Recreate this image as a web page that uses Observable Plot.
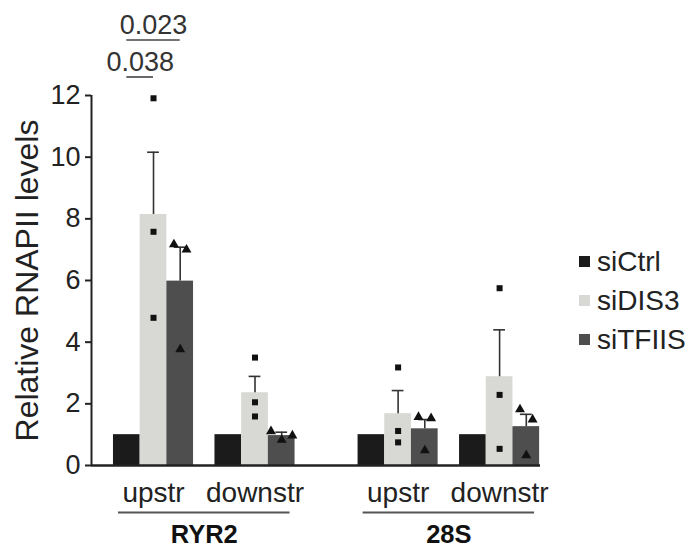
<!DOCTYPE html>
<html><head><meta charset="utf-8">
<script src="https://cdn.jsdelivr.net/npm/d3@7"></script>
<script src="https://cdn.jsdelivr.net/npm/@observablehq/plot@0.6"></script>
<style>
body{margin:0;background:#fff;font-family:"Liberation Sans",Arial,sans-serif;}
#wrap{position:relative;width:691px;height:549px;}
#chart svg{overflow:visible;}
#legend{position:absolute;left:579px;top:246px;}
.lg-swatches{font-size:28px !important;font-family:"Liberation Sans",Arial,sans-serif !important;color:#222 !important;margin:0 !important;}
.lg-swatch{padding-bottom:8px !important;line-height:31px !important;}
.lg-swatch svg{margin-right:7px !important;}
</style></head><body><div id="wrap"><div id="chart"></div><div id="legend"></div></div>
<script>
// ---- data ----
const genes = ["RYR2", "28S"];
const regions = ["upstr", "downstr"];
const series = ["siCtrl", "siDIS3", "siTFIIS"];
const colors = ["#1b1b1b", "#d8d9d4", "#4e4e4e"];
const yTicks = [0, 2, 4, 6, 8, 10, 12];
const yLabel = "Relative RNAPII levels";
// group order: RYR2 upstr, RYR2 downstr, 28S upstr, 28S downstr
const ctrlMean = [1, 1, 1, 1];
const dis3Mean = [8.14, 2.36, 1.68, 2.88];
const dis3Sem = [2.02, 0.53, 0.75, 1.52];
const tfiisMean = [5.98, 0.97, 1.19, 1.26];
const tfiisSem = [1.10, 0.11, 0.30, 0.40];
const dis3Points = [[11.91, 7.58, 4.79], [3.50, 2.05, 1.59], [3.18, 1.12, 0.75], [5.75, 2.29, 0.54]];
const tfiisPoints = [[7.17, 7.00, 3.77], [1.11, 0.97, 0.83], [1.57, 1.53, 0.49], [1.82, 1.49, 0.33]];
const pLabels = ["0.038", "0.023"];
const pPairs = [["siCtrl", "siDIS3"], ["siCtrl", "siTFIIS"]];

// ---- layout (code only) ----
const geneGap = 1.41, barW = 0.263, capHalf = 0.058, jit = 0.062;
const xDomain = [-0.611, 3.813];
const groups = [];
genes.forEach((g, gi) => regions.forEach((r, ri) => groups.push({gene: g, region: r, center: gi * (1 + geneGap) + ri})));
const means = [ctrlMean, dis3Mean, tfiisMean];
const sems = [null, dis3Sem, tfiisSem];
const bars = [];
groups.forEach((grp, k) => series.forEach((s, si) => {
  const xc = grp.center + (si - 1) * barW;
  bars.push({series: s, group: k, xc, x1: xc - barW / 2, x2: xc + barW / 2, mean: means[si][k], sem: sems[si] ? sems[si][k] : null});
}));
const errs = bars.filter(d => d.sem != null).map(d => ({...d, top: d.mean + d.sem}));
const sq = [], tri = [];
const pattern = [-1, 1, 0];
groups.forEach((grp, k) => {
  const b1 = bars.find(d => d.group === k && d.series === "siDIS3");
  const b2 = bars.find(d => d.group === k && d.series === "siTFIIS");
  dis3Points[k].forEach(v => sq.push({x: b1.xc, y: v}));
  const spread = (d3.max(tfiisPoints[k]) - d3.min(tfiisPoints[k]) < 0.4) ? 1.7 : 1;
  tfiisPoints[k].forEach((v, i) => tri.push({x: b2.xc + pattern[i] * jit * spread, y: v}));
});
const geneRows = genes.map((g, gi) => {
  const gs = groups.filter(d => d.gene === g);
  return {gene: g, center: d3.mean(gs, d => d.center), x1: gs[0].center - 0.345, x2: gs[gs.length - 1].center + 0.345};
});
const bracketLevels = [12.6, 13.8];
const brackets = pLabels.map((p, i) => {
  const a = bars.find(d => d.group === 0 && d.series === pPairs[i][0]);
  const b = bars.find(d => d.group === 0 && d.series === pPairs[i][1]);
  return {label: p, x1: a.xc, x2: b.xc, mid: (a.xc + b.xc) / 2, y: bracketLevels[i]};
});

const ink = "#222";
const chart = Plot.plot({
  width: 691, height: 549,
  marginLeft: 91, marginRight: 151, marginTop: 95, marginBottom: 84,
  style: {fontFamily: "Liberation Sans, Arial, sans-serif", color: ink, background: "#fff", overflow: "visible"},
  x: {type: "linear", domain: xDomain, axis: null},
  y: {domain: [0, 12], axis: null},
  color: {domain: series, range: colors},
  marks: [
    Plot.rectY(bars, {x1: "x1", x2: "x2", y: "mean", fill: "series"}),
    Plot.ruleX(errs, {x: "xc", y1: "mean", y2: "top", stroke: "#333", strokeWidth: 1.6}),
    Plot.ruleY(errs, {y: "top", x1: d => d.xc - capHalf, x2: d => d.xc + capHalf, stroke: "#333", strokeWidth: 1.6}),
    Plot.dot(sq, {x: "x", y: "y", symbol: "square", r: 3.4, fill: "#111", stroke: "none"}),
    Plot.dot(tri, {x: "x", y: "y", symbol: "triangle", r: 3.7, fill: "#111", stroke: "none"}),
    Plot.ruleY([0], {x1: xDomain[0], x2: xDomain[1], stroke: ink, strokeWidth: 2.5}),
    Plot.ruleX([xDomain[0]], {y1: 0, y2: 12, stroke: ink, strokeWidth: 2}),
    Plot.axisY(yTicks, {anchor: "left", tickSize: 6, tickPadding: 5, fontSize: 27, strokeWidth: 2, label: null, stroke: ink}),
    Plot.text([yLabel], {frameAnchor: "left", textAnchor: "middle", dx: -64, rotate: -90, fontSize: 32, fill: ink}),
    Plot.text(groups, {x: "center", y: 0, text: "region", dy: 28, fontSize: 28, fill: ink}),
    Plot.ruleY(geneRows, {y: 0, x1: "x1", x2: "x2", dy: 47, stroke: "#555", strokeWidth: 2}),
    Plot.text(geneRows, {x: "center", y: 0, text: "gene", dy: 69, fontSize: 25.5, fontWeight: "bold", fill: "#111"}),
    Plot.ruleY(brackets, {y: "y", x1: "x1", x2: "x2", stroke: "#444", strokeWidth: 1.6}),
    Plot.text(brackets, {x: "mid", y: "y", text: "label", dy: -14.5, fontSize: 27, fill: "#333"})
  ]
});
document.getElementById("chart").appendChild(chart);
const leg = Plot.legend({color: {domain: series, range: colors}, legend: "swatches", columns: 1, swatchSize: 11, className: "lg"});
document.getElementById("legend").appendChild(leg);
</script></body></html>
